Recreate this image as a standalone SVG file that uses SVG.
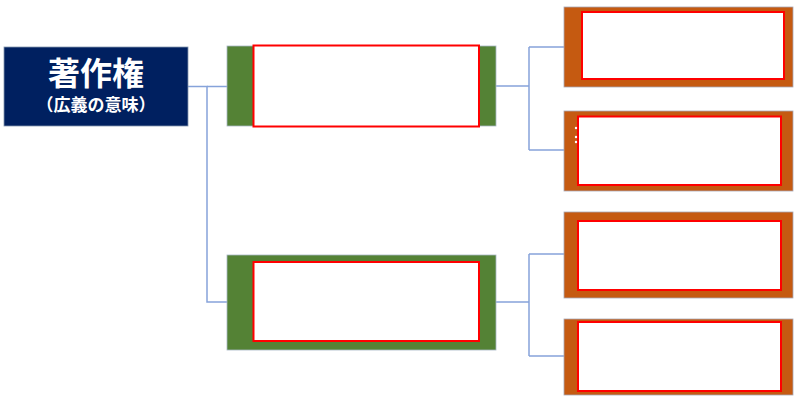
<svg xmlns="http://www.w3.org/2000/svg" width="794" height="397" viewBox="0 0 794 397">
<style>
.navy{fill:#002060;stroke:#8497b0;stroke-width:0.8}
.green{fill:#548235;stroke:#a9b7c6;stroke-width:0.8}
.orange{fill:#c55a11;stroke:#a9a9b6;stroke-width:0.8}
.inner{fill:#ffffff;stroke:#ff0000;stroke-width:2}
.conn{fill:none;stroke:#86a3da;stroke-width:1.5}
.t1{font-family:"Noto Sans CJK JP","Noto Sans CJK SC",sans-serif;fill:#ffffff;text-anchor:middle}
</style>
<rect width="794" height="397" fill="#ffffff"/>
<g id="connectors">
<path class="conn" d="M188 86.5H207V302H227"/>
<path class="conn" d="M207 86.5H227"/>
<path class="conn" d="M496 86H529M529 47V150M529 47H564M529 150H564"/>
<path class="conn" d="M496 302H529M529 254V356M529 254H564M529 356H564"/>
</g>
<g id="root">
<rect class="navy" x="4" y="47" width="184" height="79"/>
<text class="t1" x="96" y="85" font-size="32" font-weight="bold">著作権</text>
<text class="t1" x="96" y="111" font-size="17" font-weight="bold">（広義の意味）</text>
</g>
<g id="mid1">
<rect class="green" x="227" y="46" width="269" height="80"/>
<rect class="inner" x="253.5" y="45.5" width="225.5" height="81"/>
</g>
<g id="mid2">
<rect class="green" x="227" y="255" width="269" height="95"/>
<rect class="inner" x="253.5" y="262" width="225.5" height="79"/>
</g>
<g id="leaf1">
<rect class="orange" x="564" y="7" width="229" height="80"/>
<rect class="inner" x="582" y="12" width="202" height="67"/>
</g>
<g id="leaf2">
<rect class="orange" x="564" y="111" width="229" height="80"/>
<rect class="inner" x="578" y="116.5" width="203" height="68.5"/>
<circle cx="576" cy="128" r="1.2" fill="#ffffff"/>
<circle cx="576" cy="137" r="1.2" fill="#ffffff"/>
<circle cx="576" cy="142" r="1.2" fill="#ffffff"/>
</g>
<g id="leaf3">
<rect class="orange" x="564" y="212" width="229" height="86"/>
<rect class="inner" x="578" y="221" width="203" height="69"/>
</g>
<g id="leaf4">
<rect class="orange" x="564" y="319" width="229" height="76"/>
<rect class="inner" x="578" y="322" width="203" height="69"/>
</g>
</svg>
